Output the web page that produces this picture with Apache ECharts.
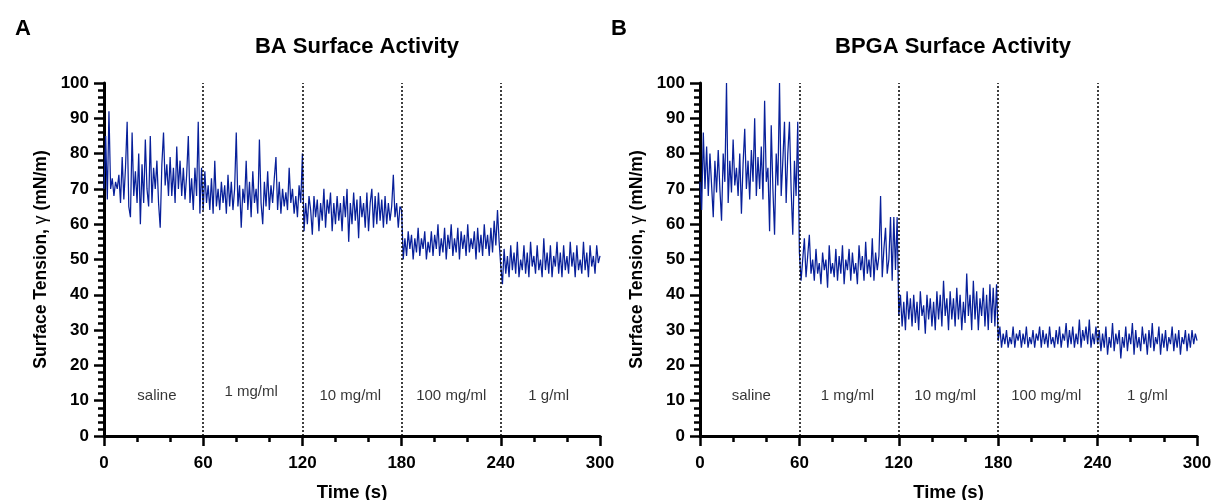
<!DOCTYPE html>
<html>
<head>
<meta charset="utf-8">
<script src="https://cdn.jsdelivr.net/npm/echarts@6/dist/echarts.min.js"></script>
<style>html,body{margin:0;padding:0;background:#fff}#c{width:1212px;height:500px}</style>
</head>
<body>
<div id="c"></div>
<script>
// ---- data ----
const segStarts = [0, 60, 120, 180, 240];
const boundaries = [60, 120, 180, 240];
const regionNames = ['saline', '1 mg/ml', '10 mg/ml', '100 mg/ml', '1 g/ml'];
const regionLabelXA = [32, 89, 149, 210, 269];
const regionLabelYA = [11.5, 12.5, 11.3, 11.3, 11.5];
const regionLabelXB = [31, 89, 148, 209, 270];
const regionLabelYB = [11.5, 11.5, 11.5, 11.5, 11.5];
const xTicks = [0, 60, 120, 180, 240, 300];

// Panel A (BA)
const baSaline = [70,85,67,92,70,73,68,72,70,74,66,79,67,76,89,65,62,86,68,75,66,80,60,77,66,84,70,65,85,66,76,70,78,66,59,77,86,71,77,68,79,68,76,66,82,70,78,68,76,67,74,85,66,73,64,76,68,89,63,76];
const ba1mg = [64,75,66,71,64,73,63,78,65,70,64,72,66,71,63,74,65,72,64,70,86,65,71,59,70,66,78,64,72,62,75,66,70,63,84,66,60,72,65,75,64,71,66,73,79,64,72,63,70,65,69,64,76,66,70,63,68,62,71,66];
const ba10mg = [80,58,66,60,68,64,57,68,62,67,58,66,61,70,59,67,63,69,58,66,60,68,61,66,58,68,62,70,55,66,60,69,61,67,56,68,62,66,59,69,58,66,70,59,68,60,69,61,67,59,68,60,66,61,65,74,62,66,59,65];
const ba100mg = [64,50,56,51,58,53,57,50,56,52,59,51,56,53,58,50,55,52,58,51,57,53,60,51,56,52,59,50,57,53,60,51,56,52,59,50,58,53,57,51,60,52,56,53,58,50,59,52,57,51,60,53,57,51,59,52,61,54,64,55];
const ba1g = [48,43,53,46,51,45,54,47,52,46,55,45,50,47,54,46,52,45,55,48,51,46,54,47,50,45,56,47,52,46,54,45,51,48,55,46,52,45,54,47,51,46,55,48,52,45,54,47,50,46,55,47,52,45,54,48,51,46,54,49,51];

// Panel B (BPGA)
const bpgaSaline = [72,64,86,70,82,68,80,71,62,78,69,81,70,61,80,72,100,66,78,69,84,71,76,68,80,63,77,87,70,78,67,81,72,90,68,79,70,82,67,95,72,76,58,88,70,57,80,71,100,68,78,89,66,80,89,70,57,78,68,89];
const bpga1mg = [52,44,50,56,45,51,57,46,50,44,53,46,49,43,52,47,50,42,54,46,49,45,53,44,51,46,54,43,50,47,53,44,52,46,49,43,54,47,51,44,55,46,50,45,56,44,52,47,51,68,45,53,59,46,50,62,44,62,47,62];
const bpga10mg = [34,40,31,38,30,41,33,39,31,40,32,38,30,41,34,37,29,40,33,39,31,38,30,41,33,40,31,44,34,39,30,41,33,39,31,42,33,40,30,38,32,46,34,40,30,44,33,41,30,39,34,42,31,40,30,43,32,42,31,43];
const bpga100mg = [27,31,25,29,26,30,25,28,26,31,25,29,27,30,25,29,26,31,25,28,26,30,25,29,27,31,25,30,26,29,25,31,26,28,25,30,26,31,25,29,27,32,25,30,26,31,25,29,26,33,25,30,27,31,26,33,25,29,26,31];
const bpga1g = [26,30,24,29,25,31,23,28,25,32,24,29,26,30,22,28,25,31,24,29,26,32,23,30,25,28,24,31,26,29,23,30,25,32,24,28,26,31,23,29,25,30,24,28,26,31,24,29,25,30,23,28,26,30,24,29,25,30,26,29,27];

// ---- build ----
function build(segs) {
  const out = [];
  segs.forEach((vals, s) => vals.forEach((v, i) => out.push([segStarts[s] + i, v])));
  return out;
}
const dataA = build([baSaline, ba1mg, ba10mg, ba100mg, ba1g]);
const dataB = build([bpgaSaline, bpga1mg, bpga10mg, bpga100mg, bpga1g]);

const FONT = 'Liberation Sans, Arial, Helvetica, sans-serif';
const LINE = '#08209a';

function xAxis(gi) {
  return {
    gridIndex: gi, type: 'value', min: 0, max: 300, interval: 60,
    name: 'Time (s)', nameLocation: 'middle', nameGap: 47,
    nameTextStyle: {fontFamily: FONT, fontWeight: 'bold', fontSize: 18.5, color: '#000'},
    axisLine: {show: true, onZero: false, lineStyle: {color: '#000', width: 3}},
    axisTick: {show: true, inside: false, length: 10, lineStyle: {color: '#000', width: 2.5}},
    minorTick: {show: true, splitNumber: 3, length: 6, lineStyle: {color: '#000', width: 2.5}},
    splitLine: {show: false},
    axisLabel: {margin: 19, fontFamily: FONT, fontWeight: 'bold', fontSize: 17, color: '#000',
      formatter: v => xTicks.includes(v) ? String(v) : ''}
  };
}
function yAxis(gi) {
  return {
    gridIndex: gi, type: 'value', min: 0, max: 100, interval: 10,
    name: 'Surface Tension, {g|γ} (mN/m)', nameLocation: 'middle', nameGap: 54, nameRotate: 90,
    nameTextStyle: {fontFamily: FONT, fontWeight: 'bold', fontSize: 17.5, color: '#000',
      rich: {g: {fontFamily: FONT, fontWeight: 'normal', fontSize: 17.5, color: '#000'}}},
    axisLine: {show: true, onZero: false, lineStyle: {color: '#000', width: 3}},
    axisTick: {show: true, inside: false, length: 10, lineStyle: {color: '#000', width: 2.5}},
    minorTick: {show: true, splitNumber: 5, length: 6, lineStyle: {color: '#000', width: 2.5}},
    splitLine: {show: false},
    axisLabel: {margin: 15, fontFamily: FONT, fontWeight: 'bold', fontSize: 17, color: '#000'}
  };
}
function lineSeries(gi, data) {
  return {
    type: 'line', xAxisIndex: gi, yAxisIndex: gi, data: data,
    showSymbol: false, symbol: 'none', animation: false,
    lineStyle: {color: LINE, width: 1.25}, z: 2,
    markLine: {
      silent: true, symbol: ['none', 'none'], animation: false,
      label: {show: false},
      lineStyle: {type: [2, 2], color: '#000', width: 1.5},
      data: boundaries.map(b => ({xAxis: b}))
    }
  };
}
function labelSeries(gi, xs, ys) {
  return {
    type: 'scatter', xAxisIndex: gi, yAxisIndex: gi, symbolSize: 0, silent: true, animation: false,
    data: regionNames.map((n, i) => ({name: n, value: [xs[i], ys[i]]})),
    label: {show: true, position: 'inside', formatter: p => p.name,
      fontFamily: FONT, fontSize: 15, color: '#000'}
  };
}

const chart = echarts.init(document.getElementById('c'), null, {renderer: 'canvas'});
chart.setOption({
  animation: false,
  backgroundColor: '#fff',
  title: [
    {text: 'A', left: 10, top: 13, textStyle: {fontFamily: FONT, fontWeight: 'bold', fontSize: 22, color: '#000'}},
    {text: 'B', left: 606, top: 13, textStyle: {fontFamily: FONT, fontWeight: 'bold', fontSize: 22, color: '#000'}},
    {text: 'BA Surface Activity', left: 352, top: 31, textAlign: 'center', textStyle: {fontFamily: FONT, fontWeight: 'bold', fontSize: 22, color: '#000'}},
    {text: 'BPGA Surface Activity', left: 948, top: 31, textAlign: 'center', textStyle: {fontFamily: FONT, fontWeight: 'bold', fontSize: 22, color: '#000'}}
  ],
  grid: [
    {left: 104, top: 83, width: 496, height: 353, containLabel: false, outerBoundsMode: 'none'},
    {left: 700, top: 83, width: 497, height: 353, containLabel: false, outerBoundsMode: 'none'}
  ],
  xAxis: [xAxis(0), xAxis(1)],
  yAxis: [yAxis(0), yAxis(1)],
  series: [
    lineSeries(0, dataA), lineSeries(1, dataB),
    labelSeries(0, regionLabelXA, regionLabelYA), labelSeries(1, regionLabelXB, regionLabelYB)
  ]
});
</script>
</body>
</html>
